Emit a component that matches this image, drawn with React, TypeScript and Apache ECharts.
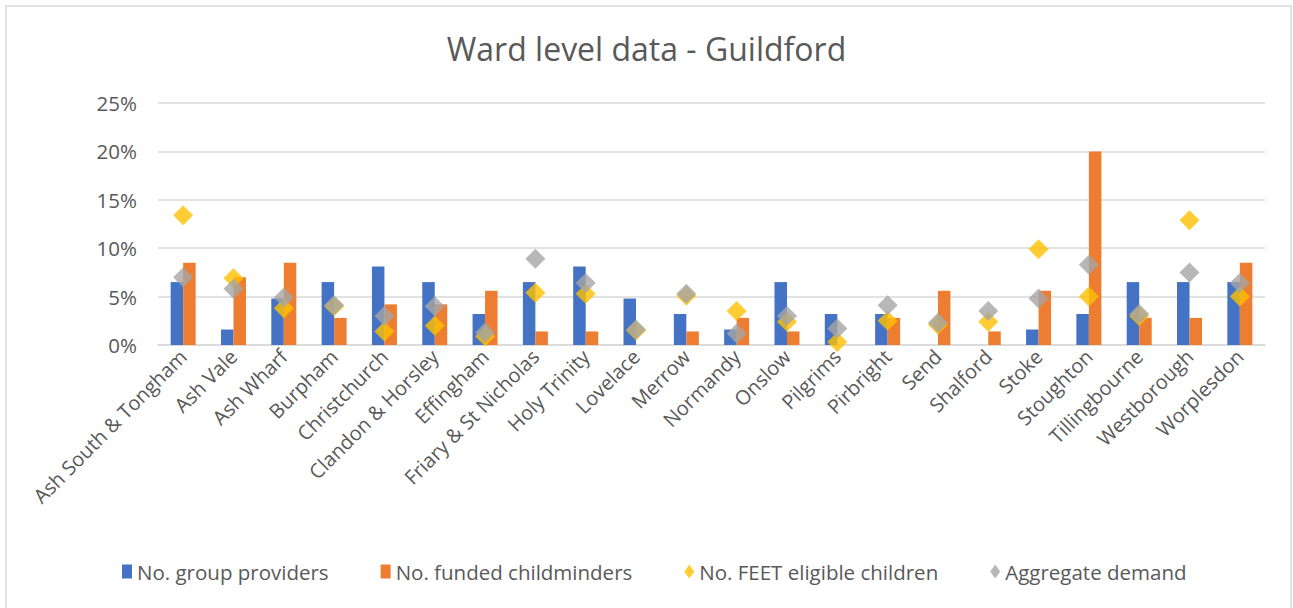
import React, { useEffect, useRef } from "react";
import * as echarts from "echarts";

const categories = [
  "Ash South & Tongham", "Ash Vale", "Ash Wharf", "Burpham", "Christchurch",
  "Clandon & Horsley", "Effingham", "Friary & St Nicholas", "Holy Trinity", "Lovelace",
  "Merrow", "Normandy", "Onslow", "Pilgrims", "Pirbright", "Send", "Shalford",
  "Stoke", "Stoughton", "Tillingbourne", "Westborough", "Worplesdon",
];

// values in percent
const groupProviders = [6.5, 1.6, 4.8, 6.5, 8.1, 6.5, 3.2, 6.5, 8.1, 4.8, 3.2, 1.6, 6.5, 3.2, 3.2, 0, 0, 1.6, 3.2, 6.5, 6.5, 6.5];
const fundedChildminders = [8.5, 7.0, 8.5, 2.8, 4.2, 4.2, 5.6, 1.4, 1.4, 0, 1.4, 2.8, 1.4, 0, 2.8, 5.6, 1.4, 5.6, 20.0, 2.8, 2.8, 8.5];
const feetEligible = [13.4, 6.9, 3.8, 4.0, 1.4, 2.0, 0.9, 5.4, 5.3, 1.5, 5.1, 3.5, 2.4, 0.3, 2.5, 2.1, 2.4, 9.9, 5.0, 3.0, 12.9, 5.0];
const aggregateDemand = [7.0, 5.8, 4.9, 4.1, 3.0, 4.0, 1.3, 8.9, 6.4, 1.6, 5.3, 1.2, 3.0, 1.7, 4.1, 2.3, 3.5, 4.8, 8.3, 3.2, 7.5, 6.4];

const yTicks = { min: 0, max: 25, interval: 5 };

const seriesNames = [
  "No. group providers",
  "No. funded childminders",
  "No. FEET eligible children",
  "Aggregate demand",
];

const FONT = "'Open Sans', 'Noto Sans', sans-serif";
const TEXT = "#595959";

export default function App() {
  const ref = useRef<HTMLDivElement>(null);
  useEffect(() => {
    if (!ref.current) return;
    const chart = echarts.init(ref.current, null, { renderer: "svg" });
    chart.setOption({
      animation: false,
      backgroundColor: "#ffffff",
      textStyle: { fontFamily: FONT },
      title: {
        text: "Ward level data - Guildford",
        left: "center",
        top: 27,
        textStyle: { fontFamily: FONT, fontSize: 32, fontWeight: "normal", color: TEXT },
      },
      graphic: [
        {
          type: "rect",
          shape: { x: 6, y: 6, width: 1285, height: 610 },
          style: { fill: "none", stroke: "#d9d9d9", lineWidth: 1.5 },
          silent: true,
        },
      ],
      legend: {
        top: 556,
        left: 117,
        itemWidth: 10,
        itemHeight: 14,
        itemGap: 52,
        textStyle: { fontFamily: FONT, fontSize: 20.5, color: TEXT },
        data: [
          { name: seriesNames[0], icon: "rect" },
          { name: seriesNames[1], icon: "rect" },
          { name: seriesNames[2], icon: "diamond" },
          { name: seriesNames[3], icon: "diamond" },
        ],
      },
      grid: { left: 158, right: 28, top: 103, bottom: 263, containLabel: false },
      xAxis: {
        type: "category",
        data: categories,
        axisLine: { lineStyle: { color: "#d9d9d9", width: 1.5 } },
        axisTick: { show: false },
        axisLabel: {
          interval: 0,
          rotate: 45,
          fontFamily: FONT,
          fontSize: 20,
          color: TEXT,
          margin: 8,
        },
      },
      yAxis: {
        type: "value",
        min: yTicks.min,
        max: yTicks.max,
        interval: yTicks.interval,
        axisLine: { show: false },
        axisTick: { show: false },
        splitLine: { lineStyle: { color: "#d9d9d9", width: 1.5 } },
        axisLabel: {
          formatter: "{value}%",
          fontFamily: FONT,
          fontSize: 20.5,
          color: TEXT,
          margin: 21,
        },
      },
      series: [
        {
          name: seriesNames[0],
          type: "bar",
          data: groupProviders,
          barWidth: 12.5,
          barGap: "0%",
          itemStyle: { color: "#4472C4" },
        },
        {
          name: seriesNames[1],
          type: "bar",
          data: fundedChildminders,
          barWidth: 12.5,
          barGap: "0%",
          itemStyle: { color: "#ED7D31" },
        },
        {
          name: seriesNames[2],
          type: "scatter",
          data: feetEligible,
          symbol: "diamond",
          symbolSize: 20,
          itemStyle: { color: "#FFC000" },
          z: 3,
        },
        {
          name: seriesNames[3],
          type: "scatter",
          data: aggregateDemand,
          symbol: "diamond",
          symbolSize: 20,
          itemStyle: { color: "#A5A5A5" },
          z: 4,
        },
      ],
    });
    return () => chart.dispose();
  }, []);
  return (
    <div
      ref={ref}
      style={{ position: "absolute", left: 0, top: 0, width: 1293, height: 608 }}
    />
  );
}
